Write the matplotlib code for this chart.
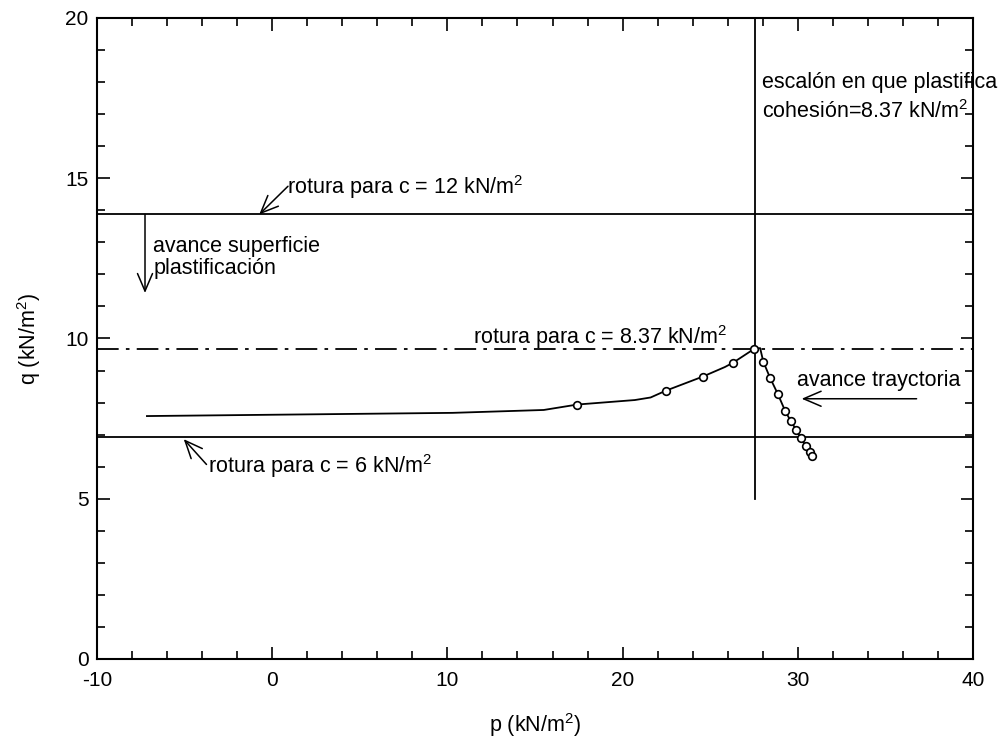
import matplotlib
matplotlib.use("Agg")
import matplotlib.pyplot as plt
from matplotlib.ticker import MultipleLocator

plt.rcParams['font.family'] = ['Liberation Sans', 'DejaVu Sans']
plt.rcParams['mathtext.fontset'] = 'custom'
plt.rcParams['mathtext.rm'] = 'Liberation Sans'
plt.rcParams['mathtext.it'] = 'Liberation Sans'
plt.rcParams['axes.unicode_minus'] = False

# stress path (line vertices)
path_p = [-7.15, 10.3, 15.5, 17.42, 20.7, 21.6, 22.46, 24.57, 25.84, 26.32, 27.52, 27.85,
          28.03, 28.41, 28.85, 29.27, 29.59, 29.90, 30.16, 30.45, 30.70, 30.79]
path_q = [7.58, 7.68, 7.77, 7.94, 8.08, 8.16, 8.37, 8.81, 9.11, 9.25, 9.68, 9.70,
          9.28, 8.78, 8.28, 7.75, 7.43, 7.16, 6.90, 6.65, 6.45, 6.33]
# marked load steps
mark_p = [17.42, 22.46, 24.57, 26.32, 27.52, 28.03, 28.41, 28.85, 29.27, 29.59,
          29.90, 30.16, 30.45, 30.70, 30.79]
mark_q = [7.94, 8.37, 8.81, 9.25, 9.68, 9.28, 8.78, 8.28, 7.75, 7.43,
          7.16, 6.90, 6.65, 6.45, 6.33]

q_fail_12 = 13.87
q_fail_837 = 9.67
q_fail_6 = 6.93
p_step = 27.56
q_step_bottom = 5.0

fig = plt.figure(figsize=(10.01, 7.42), dpi=100)
ax = fig.add_axes([97/1001, 83/742, 876/1001, 641/742])

ax.axhline(q_fail_12, color='black', lw=1.3)
ax.axhline(q_fail_837, color='black', lw=1.3, dashes=(12, 4, 2, 4))
ax.axhline(q_fail_6, color='black', lw=1.3)
ax.plot([p_step, p_step], [q_step_bottom, 20], color='black', lw=1.3)
ax.plot(path_p, path_q, color='black', lw=1.3)
ax.plot(mark_p, mark_q, linestyle='none', marker='o', ms=5.5, mfc='white', mec='black', mew=1.2)

ax.set_xlim(-10, 40)
ax.set_ylim(0, 20)
ax.xaxis.set_major_locator(MultipleLocator(10))
ax.xaxis.set_minor_locator(MultipleLocator(2))
ax.yaxis.set_major_locator(MultipleLocator(5))
ax.yaxis.set_minor_locator(MultipleLocator(1))
ax.tick_params(which='both', direction='in', top=True, right=True, labelsize=15, width=1.2)
ax.tick_params(which='major', length=9, pad=6)
ax.tick_params(axis='x', which='major', pad=9)
ax.tick_params(which='minor', length=5.5)
for s in ax.spines.values():
    s.set_linewidth(1.5)

ax.set_xlabel('p (kN/m$^2$)', fontsize=15.5, labelpad=15)
ax.set_ylabel('q (kN/m$^2$)', fontsize=15.5, labelpad=16)

fs = 15.5
ap = dict(arrowstyle='->,head_length=0.7,head_width=0.3', color='black', lw=1.1,
          mutation_scale=18, shrinkA=0, shrinkB=0)
ax.annotate('', xy=(-0.74, q_fail_12), xytext=(0.9, 14.75), arrowprops=ap)
ax.text(0.85, 14.73, 'rotura para c = 12 kN/m$^2$', fontsize=fs, va='center', ha='left')
ax.annotate('', xy=(-7.26, 11.42), xytext=(-7.26, q_fail_12), arrowprops=ap)
ax.text(-6.8, 12.53, 'avance superficie\nplastificación', fontsize=fs, va='center', ha='left',
        linespacing=1.1)
ax.text(18.7, 10.05, 'rotura para c = 8.37 kN/m$^2$', fontsize=fs, va='center', ha='center')
ax.annotate('', xy=(-5.05, 6.86), xytext=(-3.75, 6.07), arrowprops=ap)
ax.text(-3.66, 6.02, 'rotura para c = 6 kN/m$^2$', fontsize=fs, va='center', ha='left')
ax.annotate('', xy=(30.22, 8.12), xytext=(36.78, 8.12), arrowprops=ap)
ax.text(29.95, 8.7, 'avance trayctoria', fontsize=fs, va='center', ha='left')
ax.text(27.96, 18.0, 'escalón en que plastifica', fontsize=fs, va='center', ha='left', clip_on=False)
ax.text(27.96, 17.07, 'cohesión=8.37 kN/m$^2$', fontsize=fs, va='center', ha='left')

fig.savefig('out.png', dpi=100)
